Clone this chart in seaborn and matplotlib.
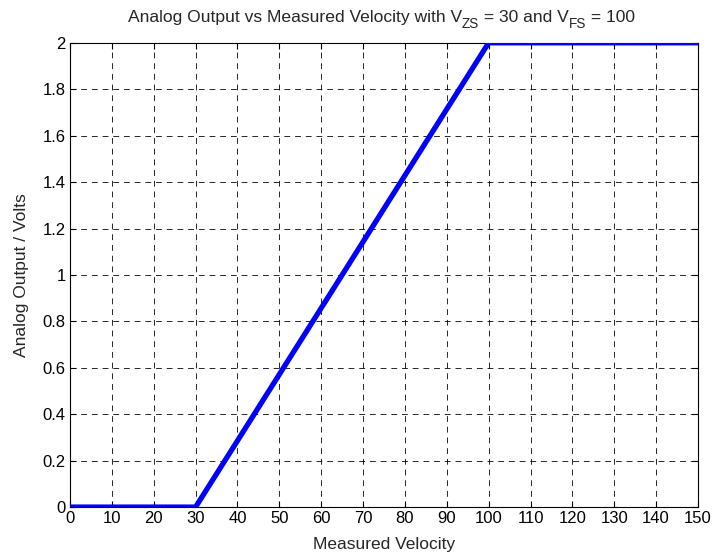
import matplotlib
matplotlib.use('Agg')
import matplotlib.pyplot as plt
import seaborn as sns
import pandas as pd

# data: piecewise linear output
velocity = [0, 30, 100, 150]
output = [0, 0, 2, 2]
x_ticks = list(range(0, 151, 10))
y_ticks = [0, 0.2, 0.4, 0.6, 0.8, 1, 1.2, 1.4, 1.6, 1.8, 2]
y_labels = ['0', '0.2', '0.4', '0.6', '0.8', '1', '1.2', '1.4', '1.6', '1.8', '2']
# title pieces: (text, is_subscript)
title_parts = [('Analog Output vs Measured Velocity with V', False), ('ZS', True),
               (' = 30 and V', False), ('FS', True), (' = 100', False)]

sns.set_style('white')
plt.rcParams['font.family'] = ['Liberation Sans', 'DejaVu Sans']

df = pd.DataFrame({'v': velocity, 'out': output})

fig = plt.figure(figsize=(7.12, 5.56), dpi=100)
ax = fig.add_axes([0.0983, 0.088, 0.882, 0.835])

sns.lineplot(x='v', y='out', data=df, color='#0000ff', linewidth=3.8, ax=ax, zorder=3)

ax.set_xlim(0, 150)
ax.set_ylim(0, 2)
ax.set_xticks(x_ticks)
ax.set_yticks(y_ticks)
ax.set_yticklabels(y_labels)
ax.grid(True, color='black', linestyle=(0, (6, 5)), linewidth=0.7, alpha=0.85)
ax.tick_params(direction='in', length=4, width=0.8, labelsize=12, colors='black',
               top=True, right=True, bottom=True, left=True, pad=3)
for s in ax.spines.values():
    s.set_color('black')
    s.set_linewidth(0.8)

ax.set_xlabel('Measured Velocity', fontsize=12.5, labelpad=8)
ax.set_ylabel('Analog Output / Volts', fontsize=12.5, labelpad=10)

# title built from pieces so subscripts can be sized like the original
renderer = fig.canvas.get_renderer()
W, H = fig.bbox.width, fig.bbox.height
x0 = 128.0
base_y = H - 22.0
for txt, sub in title_parts:
    size = 9.8 if sub else 12.6
    y = base_y - 6.5 if sub else base_y
    t = fig.text(x0 / W, y / H, txt, fontsize=size, va='baseline', ha='left')
    x0 += t.get_window_extent(renderer).width

fig.savefig('out.png', dpi=100)
